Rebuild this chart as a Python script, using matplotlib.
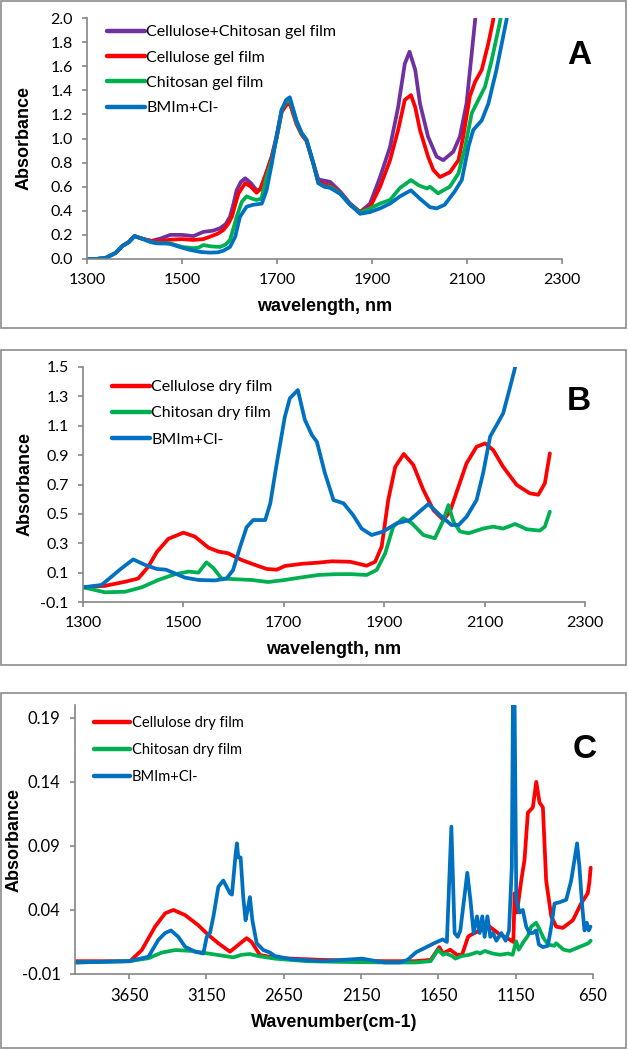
import matplotlib
matplotlib.use("Agg")
import numpy as np
import matplotlib.pyplot as plt
from matplotlib.patches import Rectangle
from matplotlib.ticker import FormatStrFormatter

# ---- panel A: gel films, NIR ----
a_purple_nm = [1300, 1320, 1340, 1360, 1375, 1388, 1400, 1415, 1435, 1455, 1475, 1500, 1524, 1545,
               1565, 1580, 1592, 1601, 1608, 1615, 1624, 1633, 1645, 1657, 1665, 1678, 1689, 1699,
               1710, 1720, 1727, 1741, 1752, 1762, 1776, 1787, 1800, 1812, 1833, 1854, 1875, 1896,
               1917, 1938, 1955, 1969, 1979, 1991, 2001, 2018, 2036, 2050, 2071, 2085, 2099, 2110,
               2117, 2125]
a_purple = [0, 0, 0.01, 0.05, 0.11, 0.14, 0.19, 0.17, 0.15, 0.17, 0.2, 0.2, 0.19, 0.225,
            0.235, 0.255, 0.29, 0.35, 0.45, 0.57, 0.64, 0.67, 0.63, 0.57, 0.58, 0.72, 0.85, 1.02,
            1.24, 1.3, 1.31, 1.13, 1.04, 0.99, 0.8, 0.66, 0.65, 0.64, 0.56, 0.46, 0.39, 0.46,
            0.68, 0.93, 1.26, 1.62, 1.72, 1.57, 1.29, 1.015, 0.85, 0.82, 0.89, 1.015, 1.29, 1.71,
            1.98, 2.2]

a_red_nm = [1300, 1320, 1340, 1360, 1375, 1388, 1400, 1415, 1435, 1455, 1475, 1500, 1524, 1545,
            1559, 1575, 1587, 1597, 1605, 1612, 1619, 1633, 1645, 1657, 1665, 1678, 1689, 1699,
            1710, 1720, 1727, 1741, 1752, 1762, 1776, 1787, 1800, 1812, 1833, 1854, 1875, 1896,
            1917, 1938, 1955, 1969, 1982, 1991, 2001, 2018, 2029, 2043, 2064, 2082, 2092, 2106,
            2117, 2131, 2145, 2155, 2162]
a_red = [0, 0, 0.01, 0.05, 0.11, 0.14, 0.19, 0.17, 0.15, 0.15, 0.16, 0.165, 0.158, 0.165,
         0.185, 0.21, 0.24, 0.29, 0.35, 0.45, 0.545, 0.63, 0.6, 0.55, 0.58, 0.72, 0.85, 1.0,
         1.22, 1.28, 1.29, 1.12, 1.03, 0.98, 0.8, 0.64, 0.62, 0.61, 0.55, 0.45, 0.39, 0.43,
         0.6, 0.82, 1.07, 1.32, 1.36, 1.26, 1.07, 0.85, 0.74, 0.68, 0.72, 0.82, 1.015, 1.35,
         1.47, 1.57, 1.79, 1.98, 2.2]

a_green_nm = [1300, 1320, 1340, 1360, 1375, 1388, 1400, 1415, 1435, 1455, 1475, 1500, 1524, 1535,
              1545, 1560, 1580, 1592, 1601, 1608, 1615, 1626, 1636, 1648, 1657, 1667, 1678, 1689,
              1699, 1710, 1720, 1727, 1741, 1752, 1762, 1776, 1787, 1800, 1812, 1833, 1854, 1875,
              1896, 1917, 1938, 1959, 1982, 1999, 2016, 2022, 2039, 2064, 2082, 2096, 2110, 2124,
              2138, 2152, 2170, 2176]
a_green = [0, 0, 0.01, 0.05, 0.11, 0.14, 0.19, 0.17, 0.14, 0.13, 0.13, 0.1, 0.09, 0.095,
           0.116, 0.105, 0.1, 0.12, 0.158, 0.25, 0.35, 0.475, 0.52, 0.5, 0.49, 0.5, 0.68, 0.82,
           1.0, 1.24, 1.31, 1.32, 1.14, 1.04, 0.99, 0.8, 0.63, 0.6, 0.6, 0.545, 0.45, 0.385,
           0.42, 0.46, 0.49, 0.59, 0.655, 0.61, 0.585, 0.6, 0.545, 0.6, 0.71, 0.93, 1.21, 1.32,
           1.43, 1.65, 1.98, 2.2]

a_blue_nm = [1300, 1320, 1340, 1360, 1375, 1388, 1400, 1415, 1435, 1447, 1465, 1475, 1495, 1517,
             1540, 1559, 1575, 1587, 1601, 1612, 1622, 1636, 1650, 1660, 1668, 1678, 1689, 1699,
             1710, 1719, 1727, 1741, 1752, 1762, 1776, 1787, 1800, 1812, 1833, 1854, 1875, 1896,
             1917, 1938, 1959, 1982, 2001, 2022, 2036, 2053, 2074, 2089, 2103, 2113, 2131, 2145,
             2162, 2183, 2190]
a_blue = [0, 0, 0.01, 0.05, 0.11, 0.14, 0.19, 0.17, 0.14, 0.13, 0.13, 0.125, 0.1, 0.075,
          0.058, 0.053, 0.055, 0.069, 0.1, 0.185, 0.35, 0.434, 0.45, 0.455, 0.46, 0.57, 0.79, 1.015,
          1.236, 1.32, 1.342, 1.15, 1.045, 0.99, 0.8, 0.63, 0.6, 0.59, 0.54, 0.45, 0.375, 0.39,
          0.42, 0.46, 0.52, 0.57, 0.5, 0.43, 0.42, 0.45, 0.56, 0.655, 0.93, 1.07, 1.15, 1.29,
          1.57, 1.98, 2.2]

# ---- panel B: dry films, NIR ----
b_red_nm = [1300, 1344, 1384, 1410, 1430, 1447, 1470, 1500, 1523, 1550, 1570, 1589, 1616, 1643,
            1666, 1686, 1702, 1736, 1769, 1795, 1832, 1865, 1882, 1895, 1908, 1922, 1939, 1958,
            1978, 1998, 2018, 2031, 2048, 2064, 2084, 2101, 2117, 2137, 2164, 2190, 2207, 2220, 2230]
b_red = [0.0, 0.01, 0.038, 0.06, 0.14, 0.24, 0.33, 0.372, 0.345, 0.27, 0.243, 0.232, 0.186, 0.152,
         0.125, 0.12, 0.145, 0.16, 0.168, 0.177, 0.174, 0.147, 0.174, 0.277, 0.594, 0.82, 0.908, 0.833,
         0.663, 0.526, 0.458, 0.515, 0.685, 0.844, 0.957, 0.98, 0.935, 0.82, 0.697, 0.64, 0.63, 0.708, 0.912]

b_green_nm = [1300, 1344, 1384, 1417, 1450, 1483, 1510, 1530, 1546, 1560, 1576, 1603, 1636, 1669,
              1702, 1736, 1769, 1799, 1832, 1865, 1885, 1902, 1918, 1938, 1955, 1978, 2001, 2018,
              2028, 2038, 2051, 2068, 2097, 2117, 2137, 2161, 2184, 2210, 2220, 2230]
b_green = [0.0, -0.034, -0.03, 0.0, 0.05, 0.089, 0.107, 0.1, 0.17, 0.13, 0.06, 0.055, 0.05, 0.036,
           0.05, 0.068, 0.084, 0.089, 0.09, 0.084, 0.118, 0.232, 0.413, 0.47, 0.436, 0.356, 0.334, 0.458,
           0.56, 0.447, 0.38, 0.368, 0.4, 0.413, 0.4, 0.431, 0.395, 0.386, 0.413, 0.515]

b_blue_nm = [1300, 1337, 1357, 1377, 1400, 1424, 1447, 1465, 1483, 1503, 1530, 1563, 1586, 1599,
             1613, 1626, 1639, 1663, 1673, 1686, 1702, 1712, 1728, 1742, 1756, 1766, 1782, 1799,
             1819, 1838, 1855, 1875, 1898, 1925, 1951, 1988, 2011, 2034, 2048, 2064, 2084, 2097,
             2111, 2124, 2137, 2151, 2161, 2165]
b_blue = [0.0, 0.016, 0.073, 0.13, 0.19, 0.152, 0.125, 0.12, 0.095, 0.066, 0.05, 0.047, 0.06, 0.118,
          0.276, 0.41, 0.458, 0.458, 0.57, 0.844, 1.16, 1.287, 1.343, 1.14, 1.037, 0.99, 0.776, 0.594,
          0.572, 0.492, 0.4, 0.356, 0.38, 0.436, 0.458, 0.567, 0.492, 0.424, 0.424, 0.48, 0.594, 0.776,
          1.026, 1.105, 1.185, 1.366, 1.5, 1.6]

# ---- panel C: dry films, FTIR ----
c_red_wn = [4000, 3700, 3644, 3568, 3482, 3417, 3364, 3288, 3202, 3138, 3073, 2998, 2944, 2890,
            2858, 2804, 2707, 2600, 2400, 2200, 2000, 1800, 1700, 1644, 1620, 1574, 1530, 1497,
            1458, 1448, 1383, 1319, 1254, 1190, 1165, 1157, 1142, 1114, 1093, 1071, 1039, 1017,
            996, 974, 953, 920, 888, 845, 780, 727, 684, 673, 665]
c_red = [0.0, 0.0, 0.0, 0.0087, 0.027, 0.0374, 0.04, 0.036, 0.028, 0.0205, 0.014, 0.0074, 0.0127, 0.018,
         0.015, 0.0048, 0.0027, 0.002, 0.001, 0.0005, 0.0, 0.0, 0.001, 0.011, 0.006, 0.009, 0.005, 0.005,
         0.019, 0.02, 0.024, 0.027, 0.021, 0.017, 0.015, 0.053, 0.038, 0.063, 0.079, 0.116, 0.12, 0.14,
         0.124, 0.12, 0.063, 0.035, 0.027, 0.026, 0.032, 0.045, 0.053, 0.062, 0.073]

c_green_wn = [4000, 3650, 3525, 3439, 3353, 3245, 3138, 3030, 2976, 2922, 2869, 2815, 2707, 2500,
              2300, 2000, 1800, 1700, 1652, 1620, 1600, 1560, 1540, 1500, 1450, 1400, 1380, 1350,
              1300, 1250, 1200, 1170, 1147, 1130, 1100, 1070, 1050, 1018, 1000, 970, 940, 900,
              889, 840, 800, 760, 720, 680, 665]
c_green = [-0.001, 0.0, 0.0023, 0.0067, 0.0087, 0.008, 0.006, 0.004, 0.003, 0.005, 0.0056, 0.004, 0.002, 0.0,
           -0.0005, -0.001, -0.001, 0.0, 0.009, 0.005, 0.006, 0.004, 0.002, 0.004, 0.005, 0.007, 0.006, 0.008,
           0.006, 0.005, 0.006, 0.005, 0.0155, 0.009, 0.015, 0.02, 0.027, 0.03, 0.026, 0.018, 0.013, 0.012,
           0.014, 0.009, 0.008, 0.01, 0.012, 0.014, 0.016]

c_blue_wn = [4000, 3650, 3525, 3461, 3417, 3379, 3332, 3288, 3224, 3170, 3148, 3127, 3105, 3073,
             3041, 2998, 2985, 2961, 2953, 2944, 2929, 2912, 2897, 2884, 2869, 2853, 2825, 2782,
             2739, 2707, 2599, 2400, 2144, 2000, 1900, 1850, 1794, 1727, 1678, 1622, 1595, 1566,
             1545, 1525, 1508, 1463, 1443, 1422, 1400, 1383, 1366, 1351, 1333, 1314, 1297, 1275,
             1243, 1215, 1193, 1175, 1168, 1157, 1146, 1125, 1104, 1082, 1061, 1039, 1017, 1000,
             974, 942, 920, 899, 866, 823, 791, 770, 753, 738, 720, 705, 690, 677, 666]
c_blue = [-0.001, 0.0, 0.0035, 0.0166, 0.022, 0.024, 0.019, 0.0113, 0.0074, 0.006, 0.019, 0.022, 0.0348, 0.058,
          0.063, 0.053, 0.052, 0.084, 0.092, 0.081, 0.081, 0.05, 0.032, 0.04, 0.05, 0.032, 0.014, 0.0087,
          0.0067, 0.004, 0.0015, 0.0, 0.002, -0.001, -0.001, 0.001, 0.007, 0.011, 0.014, 0.017, 0.015, 0.105,
          0.022, 0.019, 0.024, 0.069, 0.048, 0.022, 0.035, 0.022, 0.035, 0.019, 0.035, 0.019, 0.022, 0.016,
          0.022, 0.016, 0.024, 0.074, 0.2, 0.2, 0.048, 0.038, 0.04, 0.027, 0.022, 0.022, 0.024, 0.013,
          0.011, 0.012, 0.027, 0.045, 0.046, 0.048, 0.063, 0.079, 0.092, 0.074, 0.043, 0.024, 0.03, 0.024, 0.027]

PURPLE, RED, GREEN, BLUE = "#7030A0", "#FF0000", "#00B050", "#0070C0"
GRAY = "#868686"
LW = 2.7
TICK_FONT = "Lato"
LABEL_FONT = "Liberation Sans"

W, H = 628, 1050
fig = plt.figure(figsize=(W / 100, H / 100), dpi=100)


def add_ax(left, top, right, bottom):
    return fig.add_axes([left / W, 1 - bottom / H, (right - left) / W, (bottom - top) / H])


def frame(top, bottom):
    fig.patches.append(Rectangle((1 / W, 1 - bottom / H), (W - 3) / W, (bottom - top) / H,
                                 transform=fig.transFigure, fill=False,
                                 edgecolor="#8c8c8c", linewidth=1.2))


def style(ax, xlabel, xlab_y, ylab_x, letter, letter_xy, tick_size=11.5):
    for s in ("top", "right"):
        ax.spines[s].set_visible(False)
    for s in ("left", "bottom"):
        ax.spines[s].set_color(GRAY)
        ax.spines[s].set_linewidth(1.2)
    ax.tick_params(direction="out", length=3.8, width=1.2, color=GRAY, labelsize=tick_size, pad=6.5)
    for t in ax.get_xticklabels() + ax.get_yticklabels():
        t.set_fontfamily(TICK_FONT)
    ax.set_xlabel(xlabel, fontsize=13, fontweight="bold", family=LABEL_FONT)
    ax.set_ylabel("Absorbance", fontsize=13, fontweight="bold", family=LABEL_FONT)
    ax.xaxis.set_label_coords(0.5, xlab_y)
    ax.yaxis.set_label_coords(ylab_x, 0.5)
    ax.xaxis.label.set_va("center")
    ax.yaxis.label.set_va("center")
    fig.text(letter_xy[0] / W, 1 - letter_xy[1] / H, letter, fontsize=24, fontweight="bold",
             family=LABEL_FONT, ha="center", va="center")


def legend(ax, anchor, size=11.5, spacing=0.7, hlen=2.35):
    leg = ax.legend(loc="upper left", bbox_to_anchor=(anchor[0] / W, 1 - anchor[1] / H),
                    bbox_transform=fig.transFigure, frameon=False, handlelength=hlen,
                    handletextpad=0.1, labelspacing=spacing, borderaxespad=0, borderpad=0,
                    prop={"family": TICK_FONT, "size": size})
    for line in leg.get_lines():
        line.set_linewidth(3.2)


def draw(ax, x, y, color, label):
    ax.plot(x, y, color=color, lw=LW, label=label, solid_joinstyle="round",
            solid_capstyle="round")


# panel A
frame(1, 328)
axA = add_ax(87, 18, 562, 259)
draw(axA, a_purple_nm, a_purple, PURPLE, "Cellulose+Chitosan gel film")
draw(axA, a_red_nm, a_red, RED, "Cellulose gel film")
draw(axA, a_green_nm, a_green, GREEN, "Chitosan gel film")
draw(axA, a_blue_nm, a_blue, BLUE, "BMIm+Cl-")
axA.set_xlim(1300, 2300)
axA.set_ylim(0, 2.0)
axA.set_xticks(np.arange(1300, 2301, 200))
axA.set_yticks(np.arange(0, 2.01, 0.2))
axA.yaxis.set_major_formatter(FormatStrFormatter("%.1f"))
style(axA, "wavelength, nm", -0.199, -0.133, "A", (579, 55))
legend(axA, (107, 25), spacing=0.7)

# panel B
frame(350, 665)
axB = add_ax(83, 367, 585, 602)
draw(axB, b_red_nm, b_red, RED, "Cellulose dry film")
draw(axB, b_green_nm, b_green, GREEN, "Chitosan dry film")
draw(axB, b_blue_nm, b_blue, BLUE, "BMIm+Cl-")
axB.set_xlim(1300, 2300)
axB.set_ylim(-0.1, 1.5)
axB.set_xticks(np.arange(1300, 2301, 200))
axB.set_yticks(np.arange(-0.1, 1.51, 0.2))
axB.yaxis.set_major_formatter(FormatStrFormatter("%.1f"))
style(axB, "wavelength, nm", -0.204, -0.116, "B", (579, 401))
legend(axB, (112, 380), spacing=0.76)

# panel C
frame(693, 1048)
axC = add_ax(75, 705, 593, 974)
draw(axC, c_red_wn, c_red, RED, "Cellulose dry film")
draw(axC, c_green_wn, c_green, GREEN, "Chitosan dry film")
draw(axC, c_blue_wn, c_blue, BLUE, "BMIm+Cl-")
axC.set_xlim(4000, 650)
axC.set_ylim(-0.01, 0.2)
axC.set_xticks(np.arange(3650, 649, -500))
axC.set_yticks([-0.01, 0.04, 0.09, 0.14, 0.19])
axC.yaxis.set_major_formatter(FormatStrFormatter("%.2f"))
style(axC, "Wavenumber(cm-1)", -0.182, -0.118, "C", (585, 749), tick_size=12)
legend(axC, (94, 716), size=10.5, spacing=0.9, hlen=2.5)

fig.savefig("out.png", dpi=100)
